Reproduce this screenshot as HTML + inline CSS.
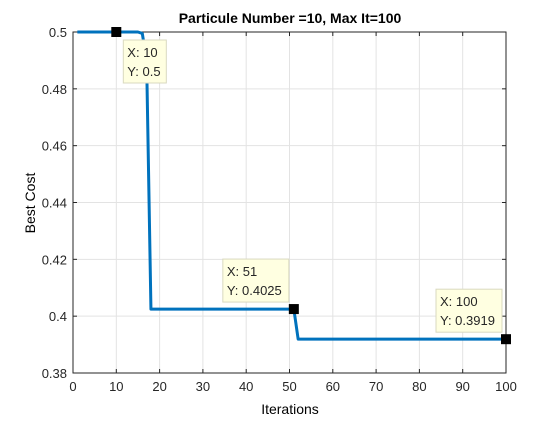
<!DOCTYPE html>
<html><head><meta charset="utf-8"><style>
body{margin:0;background:#fff;font-family:"Liberation Sans",sans-serif}
svg text{font-family:"Liberation Sans",sans-serif}
</style></head><body>
<svg width="560" height="420">
<rect width="560" height="420" fill="#fff"/>
<g id="grid"></g><g id="axes"></g><g id="series"></g><g id="tips"></g>
<text x="290" y="23" font-size="14" font-weight="bold" text-anchor="middle">Particule Number =10, Max It=100</text>
<text x="290" y="414" font-size="14" text-anchor="middle">Iterations</text>
<text transform="translate(35,203) rotate(-90)" font-size="14" text-anchor="middle">Best Cost</text>
</svg>
<script>
const xTicks=[0,10,20,30,40,50,60,70,80,90,100];
const yTicks=[0.38,0.4,0.42,0.44,0.46,0.48,0.5];
const iters=[];for(let i=1;i<=100;i++)iters.push(i);
const costs=[0.5,0.5,0.5,0.5,0.5,0.5,0.5,0.5,0.5,0.5,0.5,0.5,0.5,0.5,0.5,0.4995,0.49,0.4025,0.4025,0.4025,0.4025,0.4025,0.4025,0.4025,0.4025,0.4025,0.4025,0.4025,0.4025,0.4025,0.4025,0.4025,0.4025,0.4025,0.4025,0.4025,0.4025,0.4025,0.4025,0.4025,0.4025,0.4025,0.4025,0.4025,0.4025,0.4025,0.4025,0.4025,0.4025,0.4025,0.4025,0.3919,0.3919,0.3919,0.3919,0.3919,0.3919,0.3919,0.3919,0.3919,0.3919,0.3919,0.3919,0.3919,0.3919,0.3919,0.3919,0.3919,0.3919,0.3919,0.3919,0.3919,0.3919,0.3919,0.3919,0.3919,0.3919,0.3919,0.3919,0.3919,0.3919,0.3919,0.3919,0.3919,0.3919,0.3919,0.3919,0.3919,0.3919,0.3919,0.3919,0.3919,0.3919,0.3919,0.3919,0.3919,0.3919,0.3919,0.3919,0.3919,0.3919,0.3919];
const tipX=[10,51,100];
const tipY=[0.5,0.4025,0.3919];
const tipLabelY=["0.5","0.4025","0.3919"];
const L=73,R=506,T=32,B=373;
const sx=v=>L+(v-0)/(100-0)*(R-L);
const sy=v=>B-(v-0.38)/(0.5-0.38)*(B-T);
const NS="http://www.w3.org/2000/svg";
function mk(t,a,p){const e=document.createElementNS(NS,t);for(const k in a)e.setAttribute(k,a[k]);p.appendChild(e);return e;}
const grid=document.getElementById('grid'),axes=document.getElementById('axes'),ser=document.getElementById('series'),tips=document.getElementById('tips');
xTicks.forEach(v=>{const x=sx(v);
 const g=mk('line',{x1:x,x2:x,y1:T,y2:B,stroke:'#e3e3e3','stroke-width':1},grid);
 
 mk('line',{x1:x,x2:x,y1:B,y2:B-4,stroke:'#262626'},axes);mk('line',{x1:x,x2:x,y1:T,y2:T+4,stroke:'#262626'},axes);
 const t=mk('text',{x:x,y:B+18,'font-size':13,'text-anchor':'middle',fill:'#262626'},axes);t.textContent=v;
 });
yTicks.forEach(v=>{const y=sy(v);
 const g=mk('line',{x1:L,x2:R,y1:y,y2:y,stroke:'#e3e3e3','stroke-width':1},grid);
 
 mk('line',{x1:L,x2:L+4,y1:y,y2:y,stroke:'#262626'},axes);mk('line',{x1:R,x2:R-4,y1:y,y2:y,stroke:'#262626'},axes);
 const t=mk('text',{x:L-6,y:y+5,'font-size':13,'text-anchor':'end',fill:'#262626'},axes);t.textContent=String(v);
 });
const box=mk('rect',{x:L,y:T,width:R-L,height:B-T,fill:'none',stroke:'#262626'},axes);

const line=mk('polyline',{points:iters.map((v,i)=>sx(v)+','+sy(costs[i])).join(' '),fill:'none',stroke:'#0072bd','stroke-width':3,'stroke-linejoin':'round'},ser);

tipX.forEach((v,i)=>{const x=sx(v),y=sy(tipY[i]);
 const w=i==0?43:66;
 const r=mk('rect',{x:x+(i==0?7:(i==1?-71:-70)),y:y+(i==0?8:-50),width:w,height:43,fill:'#ffffe1',stroke:'#d9d9c0'},tips);
 
 const rx=+r.getAttribute('x'),ry=+r.getAttribute('y');
 const t1=mk('text',{x:rx+4,y:ry+17,'font-size':13,fill:'#262626'},tips);t1.textContent='X: '+v;
 
 const t2=mk('text',{x:rx+4,y:ry+36,'font-size':13,fill:'#262626'},tips);t2.textContent='Y: '+tipLabelY[i];
 
 const m=mk('rect',{x:x-5,y:y-5,width:10,height:10,fill:'#000'},tips);
 });
</script>
</body></html>
